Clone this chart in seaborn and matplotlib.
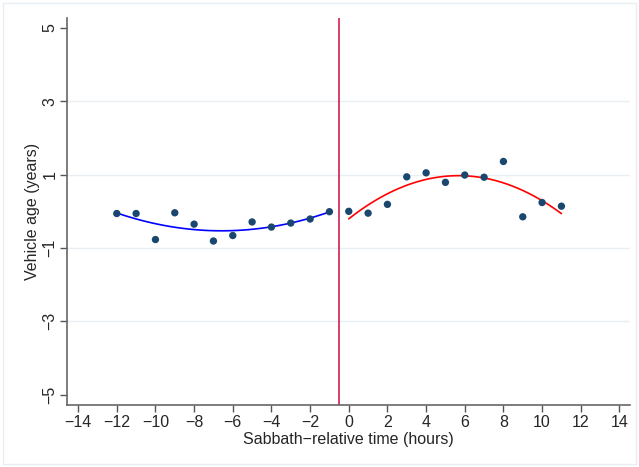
import numpy as np
import pandas as pd
import matplotlib
matplotlib.use("Agg")
import matplotlib.pyplot as plt
import seaborn as sns

# Data
hours_pre = [-12, -11, -10, -9, -8, -7, -6, -5, -4, -3, -2, -1]
age_pre = [-0.06, -0.06, -0.77, -0.04, -0.35, -0.81, -0.66, -0.29, -0.43, -0.32, -0.21, -0.01]
hours_post = [0, 1, 2, 3, 4, 5, 6, 7, 8, 9, 10, 11]
age_post = [0.00, -0.05, 0.19, 0.94, 1.05, 0.79, 0.99, 0.93, 1.36, -0.15, 0.24, 0.14]
cutoff = -0.5
x_ticks = [-14, -12, -10, -8, -6, -4, -2, 0, 2, 4, 6, 8, 10, 12, 14]
y_ticks = [-5, -3, -1, 1, 3, 5]

pre = pd.DataFrame({"hours": hours_pre, "age": age_pre})
post = pd.DataFrame({"hours": hours_post, "age": age_post})
allpts = pd.concat([pre, post], ignore_index=True)

sns.set_theme(style="white")
plt.rcParams["font.family"] = ["Liberation Sans", "DejaVu Sans"]

fig = plt.figure(figsize=(6.39, 4.67), dpi=100)
ax = fig.add_axes([0.105, 0.133, 0.881, 0.829])

grid_c = "#eaeff3"
for yv in [-3, -1, 1, 3]:
    ax.axhline(yv, color=grid_c, lw=1.0, zorder=0)

sns.regplot(data=pre, x="hours", y="age", order=2, ci=None, scatter=False,
            truncate=True, color="#0000ff", line_kws={"lw": 1.2}, ax=ax)
sns.regplot(data=post, x="hours", y="age", order=2, ci=None, scatter=False,
            truncate=True, color="#ff0000", line_kws={"lw": 1.2}, ax=ax)
sns.scatterplot(data=allpts, x="hours", y="age", color="#1a476f", s=28,
                edgecolor="none", ax=ax, zorder=3)
ax.axvline(cutoff, color="#d21f4f", lw=1.2, zorder=2)

ax.set_xlim(-14.57, 14.55)
ax.set_ylim(-5.28, 5.28)
ax.set_xticks(x_ticks)
ax.set_xticklabels([str(t).replace("-", "\u2212") for t in x_ticks])
ax.set_yticks(y_ticks)
ax.set_yticklabels([str(t).replace("-", "\u2212") for t in y_ticks],
                   rotation=90, va="center")
ax.set_xlabel("Sabbath\u2212relative time (hours)", fontsize=11.5, labelpad=2)
ax.set_ylabel("Vehicle age (years)", fontsize=11.5, labelpad=2)
ax.tick_params(axis="both", labelsize=11.5, direction="out", length=5,
               width=1, color="#555555", pad=2, bottom=True, left=True)
for s in ["top", "right"]:
    ax.spines[s].set_visible(False)
for s in ["left", "bottom"]:
    ax.spines[s].set_color("#666666")
    ax.spines[s].set_linewidth(1.2)

fig.patches.append(matplotlib.patches.Rectangle(
    (0.005, 0.006), 0.99, 0.988, transform=fig.transFigure,
    fill=False, edgecolor="#e8eef2", lw=1))

fig.savefig("out.png", dpi=100, facecolor="white")
